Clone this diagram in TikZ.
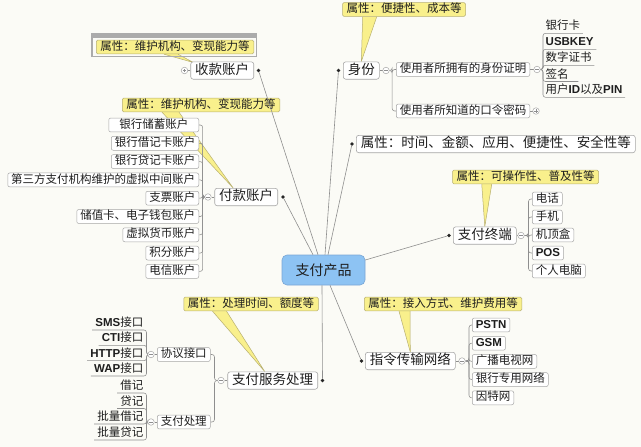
\documentclass[tikz,border=0pt]{standalone}
\usepackage{fontspec}
\newfontfamily\cjk{Noto Sans CJK SC}
\newfontfamily\lsans{Liberation Sans}
\usetikzlibrary{calc}
\pgfdeclarelayer{back}
\pgfsetlayers{back,main}
\definecolor{bgc}{HTML}{FBFBF6}
\definecolor{ln}{HTML}{8E8E8E}
\definecolor{bd}{HTML}{A6A6A6}
\definecolor{yel}{HTML}{F9F08C}
\definecolor{ybd}{HTML}{B7AF70}
\definecolor{blu}{HTML}{8DC3F3}
\definecolor{bbd}{HTML}{7AA6D4}
\definecolor{selg}{HTML}{ABABAB}
\definecolor{txt}{HTML}{1E1E1E}
\newcommand\latb[1]{{\lsans\bfseries #1}}
\begin{document}
\begin{tikzpicture}[x=1pt,y=-1pt,
  every node/.style={text=txt},
  hub/.style={draw=bbd, fill=blu, rounded corners=5pt, minimum width=83pt, minimum height=30pt, font=\cjk\fontsize{14}{14}\selectfont, line width=0.6pt},
  mnode/.style={draw=bd, fill=white, rounded corners=2.5pt, font=\cjk\fontsize{13.5}{14}\selectfont, inner xsep=4.5pt, inner ysep=2.2pt, text height=10.4pt, text depth=2.6pt, line width=0.6pt},
  snode/.style={draw=bd, fill=white, rounded corners=2pt, font=\cjk\fontsize{11.5}{12}\selectfont, inner xsep=3.5pt, inner ysep=1.5pt, text height=8.6pt, text depth=2.3pt, line width=0.5pt},
  uleaf/.style={font=\cjk\fontsize{11.5}{12}\selectfont, inner xsep=2.5pt, inner ysep=1pt, text height=8.6pt, text depth=2.3pt},
  callout/.style={draw=ybd, fill=yel, rounded corners=1.5pt, font=\cjk\fontsize{11.5}{12}\selectfont, inner xsep=4pt, inner ysep=1.5pt, text height=8.6pt, text depth=2.3pt, line width=0.5pt},
  dotn/.style={circle, fill=black!85, inner sep=0pt, minimum size=3.6pt},
  togbase/.style={circle, draw=bd, fill=white, inner sep=0pt, minimum size=6.5pt, line width=0.5pt},
  togm/.style={togbase,
    path picture={\draw[ln, line width=0.5pt] ([xshift=-1.8pt]path picture bounding box.center) -- ([xshift=1.8pt]path picture bounding box.center);}},
  togp/.style={togbase,
    path picture={\draw[ln, line width=0.5pt] ([xshift=-1.8pt]path picture bounding box.center) -- ([xshift=1.8pt]path picture bounding box.center)
      ([yshift=-1.8pt]path picture bounding box.center) -- ([yshift=1.8pt]path picture bounding box.center);}},
  conn/.style={draw=ln, line width=0.6pt},
  brk/.style={draw=ln, line width=0.55pt, rounded corners=2.5pt},
  wedge/.style={fill=yel, draw=ybd, line width=0.5pt, line join=round}
]
\useasboundingbox (0,0) rectangle (641,447);
\begin{pgfonlayer}{back}
\fill[bgc] (0,0) rectangle (641,447);
\end{pgfonlayer}

% selection frame round the top callout
\fill[selg] (91.5,32.8) rectangle (257,38.4);
\draw[selg, line width=1.1pt] (92,33.3) rectangle (256.5,56.3);

% centre
\node[hub] (c) at (323.5,270) {支付产品};

% main topics
\node[mnode, anchor=east] (sk) at (254,70.5) {收款账户};
\node[dotn] (skd) at (258.5,70.5) {};
\node[mnode, anchor=east] (fk) at (278,197) {付款账户};
\node[dotn] (fkd) at (283,197) {};
\node[mnode, anchor=west] (sf) at (343,70.5) {身份};
\node[dotn] (sfd) at (338.5,70.5) {};
\node[mnode, anchor=west] (sx) at (356,144) {属性：时间、金额、应用、便捷性、安全性等};
\node[dotn] (sxd) at (352,144) {};
\node[mnode, anchor=west] (zd) at (453,235.5) {支付终端};
\node[dotn] (zdd) at (449,235.5) {};
\node[mnode, anchor=west] (zl) at (365,361) {指令传输网络};
\node[dotn] (zld) at (361.5,361) {};
\node[mnode, anchor=east] (fw) at (318,380.5) {支付服务处理};
\node[dotn] (fwd) at (322.5,380.5) {};

% callouts
\node[callout] (c1) at (175,47) {属性：维护机构、变现能力等};
\node[callout] (c2) at (201,105) {属性：维护机构、变现能力等};
\node[callout] (c3) at (404,9.5) {属性：便捷性、成本等};
\node[callout] (c4) at (525.5,177) {属性：可操作性、普及性等};
\node[callout] (c5) at (443,304) {属性：接入方式、维护费用等};
\node[callout] (c6) at (251,304) {属性：处理时间、额度等};

% leaves of 付款账户
\node[snode, anchor=east, minimum width=90pt] (f1) at (199,125) {银行储蓄账户};
\node[snode, anchor=east] (f2) at (199,143.3) {银行借记卡账户};
\node[snode, anchor=east] (f3) at (199,161.6) {银行贷记卡账户};
\node[snode, anchor=east] (f4) at (199,179.9) {第三方支付机构维护的虚拟中间账户};
\node[snode, anchor=east] (f5) at (199,198.2) {支票账户};
\node[snode, anchor=east] (f6) at (199,216.5) {储值卡、电子钱包账户};
\node[snode, anchor=east] (f7) at (199,234.8) {虚拟货币账户};
\node[snode, anchor=east] (f8) at (199,253.1) {积分账户};
\node[snode, anchor=east] (f9) at (199,271.4) {电信账户};

% 身份 subtree
\node[snode, anchor=west] (sf1) at (396,69.5) {使用者所拥有的身份证明};
\node[snode, anchor=west] (sf2) at (396,111) {使用者所知道的口令密码};
\node[uleaf, anchor=south west] (s1) at (543,33.3) {银行卡};
\node[uleaf, anchor=south west] (s2) at (543,49.3) {\latb{USBKEY}};
\node[uleaf, anchor=south west] (s3) at (543,65.3) {数字证书};
\node[uleaf, anchor=south west, align=left, text width=30pt] (s4) at (543,81.5) {签名};
\node[uleaf, anchor=south west] (s5) at (543,97.3) {用户\latb{ID}以及\latb{PIN}};

% 支付终端 leaves
\node[snode, anchor=west] (d1) at (532,199) {电话};
\node[snode, anchor=west] (d2) at (532,217) {手机};
\node[snode, anchor=west] (d3) at (532,235) {机顶盒};
\node[snode, anchor=west] (d4) at (532,253) {\latb{POS}};
\node[snode, anchor=west] (d5) at (532,271) {个人电脑};

% 指令传输网络 leaves
\node[snode, anchor=west] (n1) at (472,325) {\latb{PSTN}};
\node[snode, anchor=west] (n2) at (472,343.2) {\latb{GSM}};
\node[snode, anchor=west] (n3) at (472,361.4) {广播电视网};
\node[snode, anchor=west] (n4) at (472,379.6) {银行专用网络};
\node[snode, anchor=west] (n5) at (472,397.8) {因特网};

% 支付服务处理 subtree
\node[snode, anchor=west] (xy) at (157,354.5) {协议接口};
\node[snode, anchor=west] (zc) at (157,422) {支付处理};
\node[uleaf, anchor=south east, inner xsep=3pt] (x1) at (146.5,330) {\latb{SMS}接口};
\node[uleaf, anchor=south east, inner xsep=3pt] (x2) at (146.5,345.3) {\latb{CTI}接口};
\node[uleaf, anchor=south east, inner xsep=3pt] (x3) at (146.5,360.7) {\latb{HTTP}接口};
\node[uleaf, anchor=south east, inner xsep=3pt] (x4) at (146.5,376) {\latb{WAP}接口};
\node[uleaf, anchor=south east, inner xsep=3pt] (z1) at (146.5,393) {借记};
\node[uleaf, anchor=south east, inner xsep=3pt] (z2) at (146.5,408.5) {贷记};
\node[uleaf, anchor=south east, inner xsep=3pt] (z3) at (146.5,424) {批量借记};
\node[uleaf, anchor=south east, inner xsep=3pt] (z4) at (146.5,440) {批量贷记};

% toggles
\node[togp] (skt) at (184.5,70.5) {};
\node[togm] (fkt) at (208,197) {};
\node[togm] (sft) at (386,70.5) {};
\node[togm] (sf1t) at (537,69.5) {};
\node[togp] (sf2t) at (536,111) {};
\node[togm] (zdt) at (521,235.5) {};
\node[togm] (zlt) at (462,361) {};
\node[togm] (fwt) at (221,380.5) {};
\node[togm] (xyt) at (151,354.5) {};
\node[togm] (zct) at (151,422) {};

\begin{pgfonlayer}{back}
% callout pointers
\filldraw[wedge] ([xshift=68pt]c1.south west) -- ([xshift=3pt,yshift=-1pt]sk.north west) -- ([xshift=82pt]c1.south west);
\filldraw[wedge] ([xshift=40pt]c2.south west) -- ([xshift=-13pt]fk.north) -- ([xshift=57pt]c2.south west);
\filldraw[wedge] ([xshift=20.5pt]c3.south west) -- (sf.north) -- ([xshift=34.5pt]c3.south west);
\filldraw[wedge] ([xshift=29.5pt]c4.south west) -- (zd.north) -- ([xshift=39.5pt]c4.south west);
\filldraw[wedge] ([xshift=35pt]c5.south west) -- (zl.north) -- ([xshift=46pt]c5.south west);
\filldraw[wedge] ([xshift=29pt]c6.south west) -- ([xshift=-8pt]fw.north) -- ([xshift=43pt]c6.south west);

% toggles to their topics
\draw[conn] (skt) -- (sk);
\draw[conn] (fkt) -- (fk);
\draw[conn] (sft) -- (sf);
\draw[conn] (sf1t) -- (sf1);
\draw[conn] (sf2t) -- (sf2);
\draw[conn] (zdt) -- (zd);
\draw[conn] (zlt) -- (zl);
\draw[conn] (fwt) -- (fw);
\draw[conn] (xyt) -- (xy);
\draw[conn] (zct) -- (zc);

% brackets
\foreach \l in {f1,f2,f3,f4,f5,f6,f7,f8,f9}
  \draw[brk] (\l.east) -| ([xshift=-1.8pt]fkt.west) -- (fkt.west);
\foreach \l in {sf1,sf2}
  \draw[brk] (sft.east) -- ([xshift=2.7pt]sft.east) |- (\l.west);
\foreach \l in {s1,s2,s3,s4,s5}
  \draw[brk] (sf1t.east) -| (\l.south west) -- (\l.south east);
\foreach \l in {d1,d2,d3,d4,d5}
  \draw[brk] (zdt.east) -- ([xshift=4pt]zdt.east) |- (\l.west);
\foreach \l in {n1,n2,n3,n4,n5}
  \draw[brk] (zlt.east) -- ([xshift=3.5pt]zlt.east) |- (\l.west);
\foreach \l in {xy,zc}
  \draw[brk] (fwt.west) -- ([xshift=-3pt]fwt.west) |- (\l.east);
\foreach \l in {x1,x2,x3,x4}
  \draw[brk] (xyt.west) -| (\l.south east) -- (\l.south west);
\foreach \l in {z1,z2,z3,z4}
  \draw[brk] (zct.west) -| (\l.south east) -- (\l.south west);
\end{pgfonlayer}

% lines from the centre
\draw[conn] ([xshift=-5.5pt]c.north) -- (skd);
\draw[conn] ([xshift=-10.5pt]c.north) -- (fkd);
\draw[conn] ([xshift=1.5pt]c.north) -- (sfd);
\draw[conn] ([xshift=4.5pt]c.north) -- (sxd);
\draw[conn] ([yshift=10pt]c.east) -- (zdd);
\draw[conn] ([xshift=6.5pt]c.south) -- (zld);
\draw[conn] ([xshift=-1.5pt]c.south) -- (fwd);
\end{tikzpicture}
\end{document}
